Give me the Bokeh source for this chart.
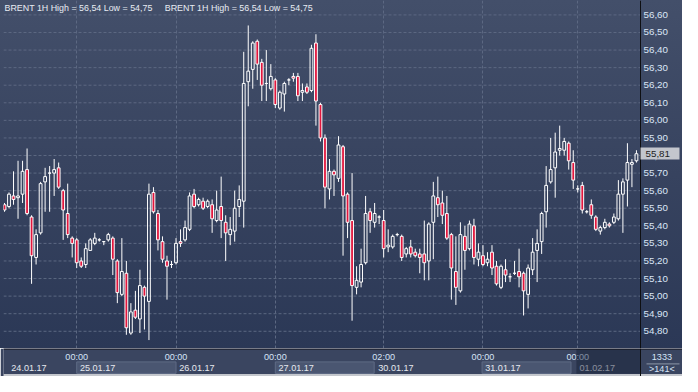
from bokeh.plotting import figure
from bokeh.models import (Range1d, FixedTicker, CustomJSTickFormatter, Label, Span,
                          ColumnDataSource, LinearAxis)
from bokeh.layouts import column
from bokeh.embed import file_html
from bokeh.resources import INLINE
from bokeh.core.properties import value

# ---------------- data (BRENT, 1H candles, 24.01.17 - 01.02.17) ----------------
opens = [55.52, 55.51, 55.57, 55.56, 55.58, 55.72, 55.45, 55.22, 55.36, 55.65,
         55.70, 55.70, 55.73, 55.60, 55.47, 55.33, 55.32, 55.20, 55.18, 55.26,
         55.30, 55.32, 55.31, 55.32, 55.33, 55.20, 55.01, 55.13, 54.79, 54.92,
         54.87, 55.05, 54.97, 55.59, 55.47, 55.31, 55.20, 55.18, 55.19, 55.31,
         55.32, 55.38, 55.58, 55.52, 55.54, 55.51, 55.52, 55.43, 55.51, 55.42,
         55.35, 55.37, 55.51, 55.54, 56.22, 56.29, 56.45, 56.33, 56.21, 56.18,
         56.23, 56.07, 56.15, 56.23, 56.25, 56.25, 56.16, 56.19, 56.17, 56.44,
         56.09, 55.90, 55.61, 55.71, 55.67, 55.85, 55.58, 55.43, 55.05, 55.08,
         55.19, 55.48, 55.42, 55.45, 55.43, 55.28, 55.28, 55.35, 55.34, 55.24,
         55.28, 55.25, 55.24, 55.24, 55.20, 55.42, 55.56, 55.53, 55.47, 55.35,
         55.14, 55.03, 55.34, 55.27, 55.40, 55.21, 55.23, 55.19, 55.25, 55.17,
         55.05, 55.15, 55.11, 55.13, 55.14, 55.13, 55.01, 55.15, 55.26, 55.31,
         55.48, 55.65, 55.73, 55.83, 55.83, 55.87, 55.76, 55.61, 55.63, 55.48,
         55.52, 55.45, 55.37, 55.39, 55.41, 55.42, 55.44, 55.58, 55.66, 55.75,
         55.77]
highs = [55.53, 55.59, 55.71, 55.77, 55.77, 55.84, 55.46, 55.38, 55.65, 55.73,
         55.74, 55.78, 55.76, 55.61, 55.64, 55.34, 55.33, 55.22, 55.30, 55.33,
         55.36, 55.33, 55.31, 55.36, 55.34, 55.21, 55.33, 55.20, 54.96, 55.03,
         55.15, 55.06, 55.64, 55.62, 55.49, 55.34, 55.23, 55.20, 55.33, 55.38,
         55.43, 55.59, 55.61, 55.56, 55.56, 55.55, 55.55, 55.60, 55.68, 55.46,
         55.45, 55.60, 55.63, 56.39, 56.54, 56.45, 56.46, 56.35, 56.40, 56.32,
         56.24, 56.17, 56.22, 56.24, 56.27, 56.27, 56.21, 56.21, 56.43, 56.49,
         56.10, 55.92, 55.78, 55.72, 55.91, 55.86, 55.59, 55.70, 55.17, 55.27,
         55.57, 55.50, 55.53, 55.46, 55.49, 55.38, 55.35, 55.36, 55.35, 55.28,
         55.32, 55.27, 55.27, 55.43, 55.42, 55.65, 55.68, 55.60, 55.57, 55.36,
         55.34, 55.42, 55.40, 55.43, 55.44, 55.30, 55.29, 55.25, 55.29, 55.20,
         55.18, 55.21, 55.13, 55.20, 55.27, 55.14, 55.18, 55.33, 55.38, 55.48,
         55.74, 55.90, 55.93, 55.97, 55.90, 55.88, 55.83, 55.63, 55.65, 55.49,
         55.55, 55.46, 55.40, 55.44, 55.42, 55.47, 55.66, 55.67, 55.87, 55.78,
         55.83]
lows = [55.48, 55.50, 55.52, 55.44, 55.53, 55.46, 55.07, 55.18, 55.35, 55.48,
        55.48, 55.57, 55.61, 55.32, 55.33, 55.22, 55.16, 55.16, 55.16, 55.26,
        55.29, 55.31, 55.29, 55.31, 55.12, 54.96, 55.00, 54.78, 54.78, 54.87,
        54.79, 54.81, 54.75, 55.47, 55.26, 55.19, 54.98, 55.16, 55.18, 55.28,
        55.31, 55.37, 55.50, 55.51, 55.49, 55.50, 55.36, 55.42, 55.33, 55.20,
        55.29, 55.31, 55.45, 55.39, 56.08, 56.18, 56.23, 56.11, 56.11, 56.17,
        56.07, 56.06, 56.05, 56.20, 56.22, 56.11, 56.11, 56.15, 56.16, 55.97,
        55.88, 55.50, 55.55, 55.57, 55.65, 55.23, 55.33, 54.86, 55.01, 55.05,
        55.18, 55.36, 55.39, 55.41, 55.22, 55.25, 55.27, 55.34, 55.20, 55.22,
        55.22, 55.22, 55.13, 55.09, 55.09, 55.21, 55.45, 55.41, 55.32, 54.98,
        54.95, 55.02, 55.15, 55.26, 55.18, 55.17, 55.17, 55.17, 55.12, 55.06,
        55.04, 55.08, 55.08, 55.12, 55.05, 54.89, 54.93, 55.12, 55.08, 55.24,
        55.39, 55.64, 55.56, 55.80, 55.80, 55.72, 55.61, 55.59, 55.47, 55.47,
        55.44, 55.37, 55.35, 55.38, 55.39, 55.41, 55.43, 55.36, 55.51, 55.62,
        55.76]
closes = [55.49, 55.58, 55.55, 55.57, 55.71, 55.47, 55.23, 55.35, 55.64, 55.68,
          55.70, 55.72, 55.62, 55.49, 55.35, 55.30, 55.19, 55.17, 55.27, 55.32,
          55.33, 55.32, 55.31, 55.35, 55.21, 55.02, 55.14, 54.82, 54.91, 54.88,
          55.06, 55.00, 55.58, 55.48, 55.32, 55.21, 55.17, 55.18, 55.30, 55.30,
          55.39, 55.57, 55.51, 55.55, 55.50, 55.54, 55.44, 55.49, 55.43, 55.36,
          55.38, 55.50, 55.55, 56.21, 56.28, 56.44, 56.32, 56.20, 56.21, 56.25,
          56.09, 56.16, 56.21, 56.23, 56.24, 56.14, 56.17, 56.16, 56.41, 56.11,
          55.90, 55.62, 55.71, 55.69, 55.86, 55.57, 55.42, 55.06, 55.09, 55.18,
          55.47, 55.43, 55.47, 55.45, 55.27, 55.29, 55.34, 55.35, 55.22, 55.27,
          55.24, 55.23, 55.22, 55.19, 55.41, 55.57, 55.52, 55.46, 55.33, 55.16,
          55.05, 55.35, 55.26, 55.41, 55.22, 55.25, 55.18, 55.21, 55.16, 55.07,
          55.17, 55.12, 55.11, 55.13, 55.11, 55.03, 55.16, 55.25, 55.30, 55.47,
          55.63, 55.72, 55.82, 55.84, 55.88, 55.77, 55.66, 55.61, 55.49, 55.48,
          55.46, 55.38, 55.39, 55.42, 55.40, 55.45, 55.58, 55.65, 55.76, 55.76,
          55.81]

price_ticks = [54.80, 54.90, 55.00, 55.10, 55.20, 55.30, 55.40, 55.50, 55.60, 55.70,
               55.80, 55.90, 56.00, 56.10, 56.20, 56.30, 56.40, 56.50, 56.60]
# candle index of the labelled hour on each day
time_ticks = [16, 38, 60, 84, 106, 127]
time_labels = ["00:00", "00:00", "00:00", "02:00", "00:00", "00:00"]
# candle index where each trading session band begins / ends
session_starts = [0.8, 16, 38, 60, 82.1, 105.8, 126.7]
session_ends = [16, 38, 60, 81.9, 105.8, 125.5, 141.0]
date_labels = ["24.01.17", "25.01.17", "26.01.17", "27.01.17", "30.01.17", "31.01.17", "01.02.17"]
bar_count_label = "1333"
symbol = "BRENT"
timeframe = "1H"

# ---------------- layout constants ----------------
W = 682
H_TOP = 348
H_BOT = 28
BL = 3            # left border
BR = 42           # right price-scale panel width
X0, X1 = -0.22, 140.9      # x range of the candle area
FONT = "Liberation Sans"

fw_area = W - BL - BR       # width of the candle area in px
fw_full = W - BL            # frame width incl. price panel
X1b = X0 + (X1 - X0) * fw_full / fw_area
def px_idx(px):
    return X0 + (px - BL) * (X1 - X0) / fw_area

n = len(closes)
idx = list(range(n))
up = [c >= o for o, c in zip(opens, closes)]
body_top = [max(o, c) for o, c in zip(opens, closes)]
body_bot = [min(o, c) for o, c in zip(opens, closes)]

src = ColumnDataSource(dict(x=idx, high=highs, low=lows, top=body_top, bot=body_bot))
src_up = ColumnDataSource(dict(x=[i for i in idx if up[i]],
                               top=[body_top[i] for i in idx if up[i]],
                               bot=[body_bot[i] for i in idx if up[i]]))
src_dn = ColumnDataSource(dict(x=[i for i in idx if not up[i]],
                               top=[body_top[i] for i in idx if not up[i]],
                               bot=[body_bot[i] for i in idx if not up[i]]))

fmt_code = "return tick.toFixed(2).replace('.', ',');"
xr = Range1d(X0, X1b)

# ---------------- main chart ----------------
p = figure(width=W, height=H_TOP, x_range=xr, y_range=Range1d(54.702, 56.682),
           x_axis_location=None, y_axis_location=None,
           toolbar_location=None, output_backend="svg",
           min_border=0, min_border_left=BL,
           background_fill_alpha=0, border_fill_alpha=0, outline_line_color=None)
p.styles = {"background": "linear-gradient(180deg, #434f6a 0%, #37435f 50%, #2b3856 100%)"}

p.ygrid.visible = False
p.xgrid.ticker = FixedTicker(ticks=time_ticks)
p.xgrid.grid_line_color = "#5c6882"
p.xgrid.grid_line_dash = "3 2"
# horizontal price grid limited to the candle area
p.segment(x0=X0, x1=X1, y0=price_ticks, y1=price_ticks, line_color="#5c6882",
          line_dash="3 2", line_width=1)

# wicks (split so hollow bodies stay empty)
p.segment(x0="x", y0="high", x1="x", y1="top", source=src, line_color="white", line_width=1)
p.segment(x0="x", y0="bot", x1="x", y1="low", source=src, line_color="white", line_width=1)
# bodies
p.vbar(x="x", width=0.62, top="top", bottom="bot", source=src_up,
       fill_alpha=0, line_color="white", line_width=1)
p.vbar(x="x", width=0.62, top="top", bottom="bot", source=src_dn,
       fill_color="#e2163d", line_color="white", line_width=1)

title_txt = "%s %s High = %s Low = %s" % (symbol, timeframe,
                                          ("%.2f" % max(highs)).replace(".", ","),
                                          ("%.2f" % min(lows)).replace(".", ","))
for tx in (0, 35.5):
    p.add_layout(Label(x=tx, y=56.638, text=title_txt, text_font=FONT, text_font_size="8.9px",
                       text_color="#e8ecf3", text_baseline="middle", text_align="left"))

# price scale at the right edge of the candle area
price_axis = LinearAxis(fixed_location=X1, ticker=FixedTicker(ticks=price_ticks),
                        formatter=CustomJSTickFormatter(code=fmt_code),
                        axis_line_color="#0e0f12", axis_line_width=1,
                        major_tick_line_color=None, minor_tick_line_color=None,
                        major_tick_out=0, major_tick_in=0, major_label_standoff=3,
                        major_label_text_font=FONT, major_label_text_font_size="9.8px",
                        major_label_text_color="#dbe6f6")
p.add_layout(price_axis, "right")

# last-price marker (one wide tick on the price scale)
marker = LinearAxis(fixed_location=X1, ticker=FixedTicker(ticks=[closes[-1]]),
                    formatter=CustomJSTickFormatter(code=fmt_code),
                    axis_line_color=None, minor_tick_line_color=None,
                    major_tick_line_color="#c3c6cd", major_tick_line_width=12,
                    major_tick_out=39, major_tick_in=0, major_label_standoff=-34,
                    major_label_text_color="#1c1c1c", major_label_text_font=FONT,
                    major_label_text_font_size="9.8px")
p.add_layout(marker, "right")

# ---------------- time / date panel ----------------
q = figure(width=W, height=H_BOT, x_range=xr, y_range=Range1d(0, H_BOT),
           x_axis_location=None, y_axis_location=None,
           toolbar_location=None, output_backend="svg",
           min_border=0, min_border_left=BL,
           background_fill_color="#3a4560", border_fill_color="#3a4560",
           outline_line_color=None)
q.grid.visible = False

# light session boxes on alternate days
bi = [1, 3, 5]
q.quad(left=[session_starts[i] for i in bi], right=[session_ends[i] for i in bi],
       bottom=3.1, top=14.6, fill_color="#4a5671", line_color="#5f6b86", line_width=1)

q.text(x=time_ticks, y=19.4, text=time_labels, text_align="center", text_baseline="middle",
       text_font=value(FONT), text_font_size="9.1px", text_color="#d6e4f7")
q.text(x=[s + 0.7 for s in session_starts], y=8.8, text=date_labels, text_align="left",
       text_baseline="middle", text_font=value(FONT), text_font_size="9.1px",
       text_color="#e6e9ef")

# last (current) session shaded
q.quad(left=[session_starts[-1]], right=[X1], bottom=2.8, top=27.5,
       fill_color="#141c33", fill_alpha=0.45, line_color=None)

# right info box
q.text(x=[px_idx(661.4)], y=19.4, text=[bar_count_label], text_align="center",
       text_baseline="middle", text_font=value(FONT), text_font_size="9.1px",
       text_color="#d6e4f7")
q.text(x=[px_idx(661.4)], y=7.6, text=[">%d<" % n], text_align="center",
       text_baseline="middle", text_font=value(FONT), text_font_size="9.1px",
       text_color="#d6e4f7")
q.segment(x0=[px_idx(646)], y0=[12.6], x1=[px_idx(679)], y1=[12.6],
          line_color="#8d96a8", line_width=1)

q.add_layout(Span(location=X1, dimension="height", line_color="#0e0f12", line_width=1))
q.add_layout(Span(location=27.5, dimension="width", line_color="#0e0f12", line_width=1))
q.quad(left=[X0], right=[X1b], bottom=0, top=2.6, fill_color="#c4c7cd", line_color=None)

layout = column(p, q, spacing=0)
open("out.html", "w").write(file_html(layout, INLINE))
